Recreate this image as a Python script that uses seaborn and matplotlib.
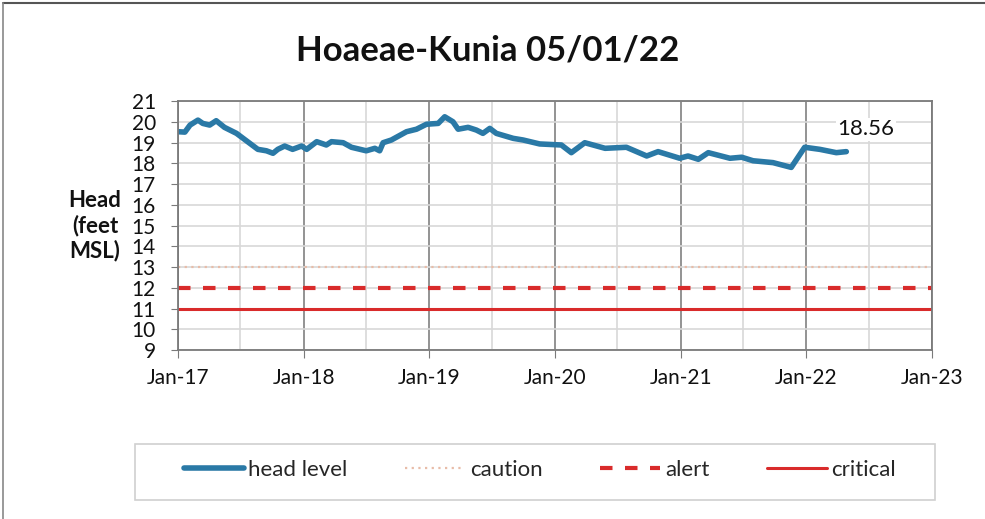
import matplotlib
matplotlib.use("Agg")
import matplotlib.pyplot as plt
import matplotlib.dates as mdates
from matplotlib.lines import Line2D
from matplotlib.patches import Rectangle
import seaborn as sns
import pandas as pd

# ---- data ----
dates = ["2017-01-01", "2017-01-21", "2017-02-05", "2017-02-28", "2017-03-14", "2017-04-03",
         "2017-04-22", "2017-05-16", "2017-06-20", "2017-08-21", "2017-09-15", "2017-10-04",
         "2017-10-18", "2017-11-07", "2017-11-30", "2017-12-26", "2018-01-10", "2018-02-08",
         "2018-03-08", "2018-03-23", "2018-04-26", "2018-05-20", "2018-07-02", "2018-07-27",
         "2018-08-10", "2018-08-20", "2018-09-13", "2018-10-27", "2018-11-25", "2018-12-24",
         "2019-01-27", "2019-02-15", "2019-03-11", "2019-03-26", "2019-04-24", "2019-05-18",
         "2019-06-06", "2019-06-26", "2019-07-15", "2019-09-02", "2019-10-01", "2019-11-18",
         "2020-01-20", "2020-02-18", "2020-03-28", "2020-05-26", "2020-07-27", "2020-09-24",
         "2020-10-27", "2020-12-29", "2021-01-22", "2021-02-21", "2021-03-22", "2021-05-24",
         "2021-06-27", "2021-07-30", "2021-09-26", "2021-11-18", "2021-12-27", "2022-02-09",
         "2022-03-29", "2022-04-27"]
head = [19.52, 19.50, 19.84, 20.08, 19.92, 19.84,
        20.05, 19.73, 19.44, 18.67, 18.60, 18.48,
        18.67, 18.83, 18.67, 18.83, 18.67, 19.04,
        18.88, 19.04, 18.99, 18.77, 18.60, 18.72,
        18.60, 18.99, 19.12, 19.52, 19.64, 19.88,
        19.92, 20.24, 20.00, 19.64, 19.73, 19.60,
        19.44, 19.68, 19.44, 19.20, 19.12, 18.93,
        18.88, 18.51, 18.99, 18.72, 18.77, 18.35,
        18.56, 18.24, 18.35, 18.19, 18.51, 18.24,
        18.29, 18.12, 18.03, 17.80, 18.77, 18.67,
        18.51, 18.56]
threshold_names = ["caution", "alert", "critical"]
threshold_values = [13, 12, 11]
last_label = "18.56"
title = "Hoaeae-Kunia 05/01/22"
ylabel = "Head\n(feet\nMSL)"

df = pd.DataFrame({"date": pd.to_datetime(dates), "head": head})

sns.set_style("white")
plt.rcParams["font.family"] = ["Lato", "DejaVu Sans"]

fig = plt.figure(figsize=(9.85, 5.19), dpi=100)
ax = fig.add_axes([178 / 985, 1 - 350 / 519, (932 - 178) / 985, (350 - 101) / 519])

# gridlines
ax.set_axisbelow(True)
ax.xaxis.set_major_locator(mdates.YearLocator())
ax.xaxis.set_minor_locator(mdates.MonthLocator(bymonth=7))
ax.xaxis.set_major_formatter(mdates.DateFormatter("%b-%y"))
ax.grid(which="major", axis="x", color="#8a8a8a", lw=1.3)
ax.grid(which="minor", axis="x", color="#d8d8d8", lw=1.2)
ax.grid(which="major", axis="y", color="#d8d8d8", lw=1.2)

# thresholds
styles = {
    "caution": dict(color="#e8bca8", lw=1.6, ls=(0, (1, 2))),
    "alert": dict(color="#d92b2b", lw=3.0, ls=(0, (3, 3))),
    "critical": dict(color="#d92b2b", lw=2.2, ls="-"),
}
sns.lineplot(data=df, x="date", y="head", ax=ax, color="#2a79a6", lw=4.0,
             label="head level", legend=False)
for name, val in zip(threshold_names, threshold_values):
    ax.axhline(val, label=name, **styles[name])

ax.set_xlim(pd.Timestamp("2017-01-01"), pd.Timestamp("2023-01-01"))
ax.set_ylim(9, 21)
ax.set_yticks(range(9, 22))
ax.set_xlabel("")
ax.set_ylabel("")

for s in ax.spines.values():
    s.set_color("#7a7a7a")
    s.set_linewidth(1.3)

ax.tick_params(axis="y", which="major", left=True, length=5, color="#7a7a7a",
               labelsize=15, pad=11)
ax.tick_params(axis="x", which="major", bottom=True, length=6, color="#7a7a7a",
               labelsize=15, pad=7)
ax.tick_params(axis="x", which="minor", bottom=False)
for lab in ax.get_xticklabels() + ax.get_yticklabels():
    lab.set_color("#111111")

# annotation
ax.annotate(last_label, xy=(df["date"].iloc[-1], df["head"].iloc[-1]),
            xytext=(14, 16), textcoords="offset points", fontsize=16,
            ha="center", va="center", color="#111111",
            bbox=dict(facecolor="white", edgecolor="none", pad=1))

fig.text(488 / 985, 1 - 51 / 519, title, ha="center", va="center",
         fontsize=25, fontweight="bold", color="#111111")
fig.text(95 / 985, 1 - 226 / 519, ylabel, ha="center", va="center",
         fontsize=16, fontweight="bold", color="#111111", linespacing=1.2)

# legend box
fig.add_artist(Rectangle((135 / 985, 1 - 500 / 519), 800 / 985, 56 / 519,
                         transform=fig.transFigure, facecolor="white",
                         edgecolor="#d0d0d0", lw=1.2))
handles, labels = ax.get_legend_handles_labels()
leg = fig.legend(handles, labels, loc="center", ncol=4,
                 bbox_to_anchor=(540 / 985, 1 - 470 / 519),
                 frameon=False, fontsize=16, handlelength=2.7,
                 handletextpad=0.2, columnspacing=2.6)

# outer chart border (top and left visible)
fig.add_artist(Line2D([3 / 985, 1], [1 - 3 / 519, 1 - 3 / 519], transform=fig.transFigure,
                      color="#555555", lw=1.5))
fig.add_artist(Line2D([3 / 985, 3 / 985], [0, 1 - 3 / 519], transform=fig.transFigure,
                      color="#888888", lw=1.2))

fig.savefig("out.png", dpi=100)
